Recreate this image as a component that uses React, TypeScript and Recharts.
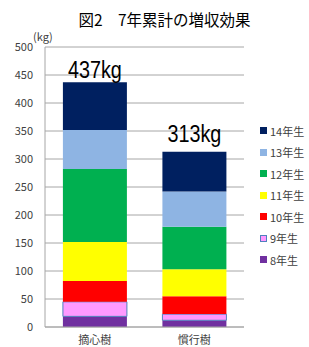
import React from 'react'
import { BarChart, Bar, XAxis, YAxis, CartesianGrid, Legend, LabelList } from 'recharts'

const trees = ['摘心樹', '慣行樹']
const series = ['8年生', '9年生', '10年生', '11年生', '12年生', '13年生', '14年生']
const v8 = [19, 12]
const v9 = [26, 11]
const v10 = [37, 32]
const v11 = [70, 48]
const v12 = [130, 76]
const v13 = [70, 63]
const v14 = [85, 71]
const yTicks = [0, 50, 100, 150, 200, 250, 300, 350, 400, 450, 500]

const colors = ['#7030A0', '#FF99FF', '#FF0000', '#FFFF00', '#00B050', '#8EB4E3', '#002060']
const values = [v8, v9, v10, v11, v12, v13, v14]

const data = trees.map((t, i) => {
  const row: any = { name: t }
  let total = 0
  series.forEach((s, k) => {
    row[s] = values[k][i]
    total += values[k][i]
  })
  row.total = total
  return row
})

const font = '"Noto Sans CJK JP", "Liberation Sans", sans-serif'
const labelGap = [4, 10]

const TotalLabel = (props: any) => {
  const { x, y, width, index } = props
  const cx = x + width / 2
  const cy = y - labelGap[index]
  return (
    <text transform={`translate(${cx},${cy}) scale(0.86,1)`} textAnchor="middle"
      fontSize={23} fontFamily='"Liberation Sans", sans-serif' fill="#000">
      {data[index].total}kg
    </text>
  )
}

const renderLegend = () => (
  <div style={{ fontFamily: font, fontSize: 11, color: '#404040' }}>
    {series.slice().reverse().map((s, i) => {
      const k = series.length - 1 - i
      return (
        <div key={s} style={{ display: 'flex', alignItems: 'center', height: 21.5 }}>
          <span style={{
            display: 'inline-block', width: 7, height: 7, background: colors[k], marginRight: 3,
            boxSizing: 'border-box', border: s === '9年生' ? '1px solid #4F81BD' : 'none',
          }} />
          {s}
        </div>
      )
    })}
  </div>
)

export default function App() {
  return (
    <div style={{ position: 'absolute', left: 0, top: 0, width: 309, height: 347, background: '#fff' }}>
      <div style={{ position: 'absolute', left: 0, width: 309, top: 9, textAlign: 'center', paddingLeft: 20, boxSizing: 'border-box', fontFamily: font, fontSize: 15.5, color: '#000', lineHeight: '20px' }}>
        図2　7年累計の増収効果
      </div>
      <div style={{ position: 'absolute', left: 33, top: 28, fontFamily: font, fontSize: 11, color: '#404040' }}>(kg)</div>
      <BarChart width={309} height={347} data={data} margin={{ top: 47, right: 65, left: 0, bottom: 0 }} barCategoryGap="18%">
        <CartesianGrid vertical={false} stroke="#A6A6A6" />
        <XAxis dataKey="name" height={20} tickLine={false} axisLine={{ stroke: '#A6A6A6' }} tickMargin={3}
          tick={{ fontSize: 11, fill: '#404040', fontFamily: font }} />
        <YAxis width={45} domain={[0, 500]} ticks={yTicks} tickLine={false} axisLine={{ stroke: '#A6A6A6' }} tickMargin={6}
          tick={{ fontSize: 11, fill: '#404040', fontFamily: font }} />
        <Legend layout="vertical" align="center" verticalAlign="middle" content={renderLegend}
          wrapperStyle={{ left: 260, top: 120, width: 49 }} />
        {series.map((s, k) => (
          <Bar key={s} dataKey={s} stackId="a" fill={colors[k]} isAnimationActive={false}
            stroke={s === '9年生' ? '#4F81BD' : undefined} strokeWidth={s === '9年生' ? 1 : 0}>
            {k === series.length - 1 && <LabelList dataKey="total" content={TotalLabel} />}
          </Bar>
        ))}
      </BarChart>
    </div>
  )
}
